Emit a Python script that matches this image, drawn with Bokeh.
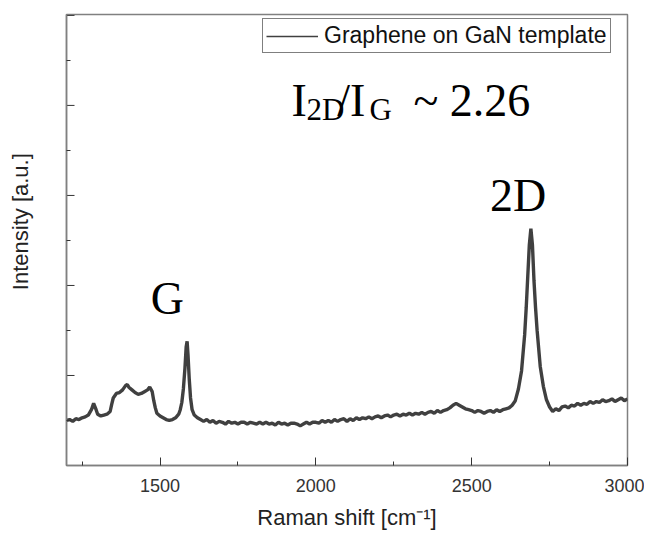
from bokeh.plotting import figure
from bokeh.models import Range1d, FixedTicker, Label, Legend, LegendItem
from bokeh.embed import file_html
from bokeh.resources import INLINE

# Raman spectrum (Raman shift in cm^-1, intensity in a.u.)
shift = [1200, 1210, 1220, 1230, 1240, 1250, 1260, 1270, 1280, 1287, 1295, 1300, 1310, 1320, 1330,
         1340, 1345, 1350, 1360, 1370, 1380, 1390, 1395, 1400, 1410, 1420, 1430, 1440, 1450, 1460,
         1467, 1475, 1480, 1485, 1490, 1500, 1510, 1520, 1530, 1540, 1550, 1560, 1565, 1570, 1575,
         1580, 1584, 1587, 1590, 1594, 1598, 1603, 1610, 1620, 1630, 1640, 1650, 1660, 1670, 1680,
         1690, 1700, 1710, 1720, 1730, 1740, 1750, 1760, 1770, 1780, 1790, 1800, 1810, 1820, 1830,
         1840, 1850, 1860, 1870, 1880, 1890, 1900, 1910, 1920, 1930, 1940, 1950, 1960, 1970, 1980,
         1990, 2000, 2010, 2020, 2030, 2040, 2050, 2060, 2070, 2080, 2090, 2100, 2110, 2120, 2130,
         2140, 2150, 2160, 2170, 2180, 2190, 2200, 2210, 2220, 2230, 2240, 2250, 2260, 2270, 2280,
         2290, 2300, 2310, 2320, 2330, 2340, 2350, 2360, 2370, 2380, 2390, 2400, 2410, 2420, 2430,
         2440, 2450, 2460, 2470, 2480, 2490, 2500, 2510, 2520, 2530, 2540, 2550, 2560, 2570, 2580,
         2590, 2600, 2610, 2620, 2630, 2640, 2650, 2660, 2670, 2675, 2680, 2685, 2690, 2695, 2700,
         2705, 2710, 2720, 2730, 2740, 2750, 2760, 2770, 2780, 2790, 2800, 2810, 2820, 2830, 2840,
         2850, 2860, 2870, 2880, 2890, 2900, 2910, 2920, 2930, 2940, 2950, 2960, 2970, 2980, 2990,
         3000]
intensity = [0.50, 0.51, 0.49, 0.52, 0.51, 0.53, 0.54, 0.56, 0.62, 0.69, 0.62, 0.57, 0.55, 0.56, 0.57,
             0.60, 0.68, 0.75, 0.80, 0.81, 0.84, 0.89, 0.90, 0.87, 0.84, 0.81, 0.79, 0.80, 0.82, 0.84,
             0.87, 0.82, 0.72, 0.64, 0.58, 0.55, 0.53, 0.51, 0.50, 0.51, 0.53, 0.57, 0.62, 0.70, 0.85,
             1.08, 1.32, 1.38, 1.22, 0.95, 0.75, 0.62, 0.56, 0.53, 0.51, 0.49, 0.51, 0.48, 0.50, 0.47,
             0.49, 0.48, 0.46, 0.49, 0.47, 0.48, 0.46, 0.48, 0.48, 0.46, 0.48, 0.47, 0.46, 0.48, 0.46,
             0.48, 0.46, 0.47, 0.45, 0.48, 0.46, 0.47, 0.45, 0.47, 0.47, 0.46, 0.44, 0.46, 0.48, 0.46,
             0.48, 0.48, 0.47, 0.50, 0.48, 0.50, 0.48, 0.51, 0.49, 0.51, 0.52, 0.49, 0.52, 0.50, 0.53,
             0.51, 0.53, 0.52, 0.54, 0.52, 0.54, 0.55, 0.53, 0.55, 0.56, 0.54, 0.56, 0.57, 0.55, 0.57,
             0.56, 0.58, 0.56, 0.58, 0.57, 0.59, 0.57, 0.59, 0.60, 0.58, 0.61, 0.59, 0.61, 0.62, 0.64,
             0.67, 0.69, 0.67, 0.65, 0.63, 0.62, 0.61, 0.59, 0.61, 0.60, 0.58, 0.60, 0.61, 0.59, 0.62,
             0.60, 0.62, 0.63, 0.64, 0.67, 0.72, 0.85, 1.05, 1.45, 1.75, 2.10, 2.45, 2.63, 2.45, 2.05,
             1.75, 1.50, 1.10, 0.88, 0.73, 0.65, 0.60, 0.63, 0.61, 0.65, 0.66, 0.64, 0.67, 0.66, 0.69,
             0.67, 0.69, 0.68, 0.71, 0.69, 0.71, 0.70, 0.73, 0.71, 0.72, 0.74, 0.71, 0.73, 0.75, 0.72,
             0.74]

x_major = [1500, 2000, 2500, 3000]
x_minor = [1250, 1750, 2250, 2750]
y_major = [0, 1, 2, 3, 4, 5]
y_minor = [0.5, 1.5, 2.5, 3.5, 4.5]
series_name = "Graphene on GaN template"

X0, X1 = 1200, 3000
FRAME_W = 561

p = figure(width=644, height=536, output_backend="svg", toolbar_location=None,
           x_range=Range1d(X0, X1), y_range=Range1d(0, 5.01),
           min_border_left=66, min_border_right=17, min_border_top=14, min_border_bottom=71,
           background_fill_color="white", border_fill_color="white")

p.xgrid.visible = False
p.ygrid.visible = False
p.outline_line_color = "#808080"
p.outline_line_width = 1.5

sans = "Liberation Sans"
serif = "Liberation Serif"

xa = p.xaxis[0]
xa.ticker = FixedTicker(ticks=x_major, minor_ticks=x_minor)
xa.axis_line_color = "#808080"
xa.axis_line_width = 1.5
xa.major_tick_in = 8
xa.major_tick_out = 0
xa.minor_tick_in = 4
xa.minor_tick_out = 0
xa.major_tick_line_color = "#333333"
xa.minor_tick_line_color = "#333333"
xa.major_label_text_font = sans
xa.major_label_text_font_size = "18px"
xa.major_label_text_color = "#333333"
xa.major_label_standoff = 13
xa.axis_label = "Raman shift [cm\u207b\u00b9]"
xa.axis_label_text_font = sans
xa.axis_label_text_font_size = "22px"
xa.axis_label_text_font_style = "normal"
xa.axis_label_text_color = "#222222"
xa.axis_label_standoff = 10

# left axis: only inward minor ticks from the axis; major ticks drawn as short segments
ya = p.yaxis[0]
ya.ticker = FixedTicker(ticks=[], minor_ticks=y_minor)
ya.axis_line_color = "#808080"
ya.axis_line_width = 1.5
ya.minor_tick_in = 4
ya.minor_tick_out = 0
ya.minor_tick_line_color = "#333333"
ya.major_label_standoff = 0
# leading no-break spaces shift the centred title a little towards the top, as in the reference
ya.axis_label = "\u00a0" * 6 + "Intensity [a.u.]"
ya.axis_label_text_font = sans
ya.axis_label_text_font_size = "22px"
ya.axis_label_text_font_style = "normal"
ya.axis_label_text_color = "#222222"
ya.axis_label_standoff = 34

tick_len = 8 * (X1 - X0) / FRAME_W
p.segment(x0=[X0] * len(y_major), y0=y_major, x1=[X0 + tick_len] * len(y_major), y1=y_major,
          line_color="#333333", line_width=1)

r = p.line(shift, intensity, line_color="#404040", line_width=3.4)
# single-point line: draws nothing in the plot, only gives the legend a thinner sample line
r_leg = p.line(shift[:1], intensity[:1], line_color="#404040", line_width=1.6)

legend = Legend(items=[LegendItem(label=series_name, renderers=[r_leg])],
                location=(196, 412), glyph_width=52, glyph_height=20,
                label_standoff=6, padding=3, spacing=0, margin=0,
                label_text_font=sans, label_text_font_size="23px",
                label_text_color="#111111",
                border_line_color="black", border_line_width=1,
                background_fill_color="white", background_fill_alpha=1.0)
p.add_layout(legend)

big = "46px"
small = "31px"

def lab(x, y, t, size, align="left"):
    p.add_layout(Label(x=x, y=y, text=t, text_font=serif, text_font_size=size,
                       text_align=align, text_baseline="alphabetic", text_color="black"))

lab(1524, 1.86, "G", big, "center")
lab(2649, 3.00, "2D", big, "center")
lab(1922, 4.06, "I", big)
lab(1970, 3.95, "2D", small)
lab(2069, 4.06, "/I", big)
lab(2172, 3.95, "G", small)
lab(2313, 4.06, "~ 2.26", big)

open("out.html", "w").write(file_html(p, INLINE))
